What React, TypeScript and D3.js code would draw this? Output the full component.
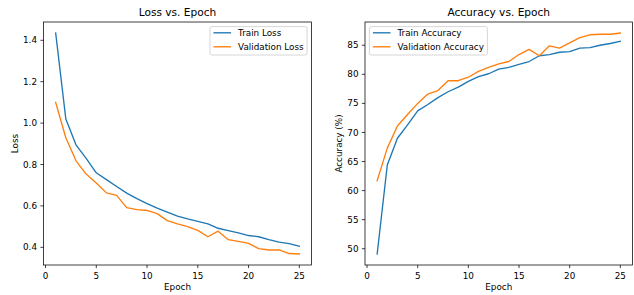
// @ts-nocheck
import * as d3 from "d3"
import { useEffect, useRef } from "react"
import * as React from "react"

const epochs = d3.range(1, 26)

const trainLoss = [1.435, 1.02, 0.895, 0.83, 0.76, 0.727, 0.694, 0.662, 0.635, 0.611, 0.589, 0.57, 0.551, 0.537, 0.525,
  0.513, 0.492, 0.481, 0.47, 0.457, 0.451, 0.437, 0.425, 0.418, 0.405]
const valLoss = [1.1, 0.929, 0.818, 0.754, 0.711, 0.663, 0.651, 0.592, 0.582, 0.578, 0.563, 0.529, 0.513, 0.5, 0.482,
  0.451, 0.478, 0.437, 0.429, 0.419, 0.394, 0.387, 0.388, 0.37, 0.368]

const trainAcc = [49.1, 64.4, 69.0, 71.3, 73.7, 74.8, 76.0, 77.0, 77.8, 78.8, 79.6, 80.1, 80.9, 81.2, 81.7,
  82.2, 83.2, 83.4, 83.8, 83.9, 84.5, 84.6, 85.0, 85.3, 85.7]
const valAcc = [61.7, 67.3, 71.1, 73.1, 75.0, 76.6, 77.2, 78.9, 78.9, 79.5, 80.5, 81.2, 81.8, 82.2, 83.4,
  84.3, 83.2, 84.9, 84.5, 85.4, 86.3, 86.8, 86.9, 86.9, 87.1]

const xTicks = [0, 5, 10, 15, 20, 25]
const lossTicks = [0.4, 0.6, 0.8, 1.0, 1.2, 1.4]
const accTicks = [50, 55, 60, 65, 70, 75, 80, 85]

const BLUE = "#1f77b4"
const ORANGE = "#ff7f0e"
const FONT = "DejaVu Sans, sans-serif"
const FS = 8.8

function padded(vals) {
  const [lo, hi] = d3.extent(vals)
  const m = (hi - lo) * 0.05
  return [lo - m, hi + m]
}

function drawPanel(svg, cfg) {
  const { left, right, top, bottom, series, yTicks, yFormat, title, ylabel, legendSide, ylabelX } = cfg
  const x = d3.scaleLinear().domain([1 - 1.2, 25 + 1.2]).range([left, right])
  const y = d3.scaleLinear().domain(padded(series.flatMap(s => s.values))).range([bottom, top])

  const g = svg.append("g").style("font-family", FONT)

  const line = d3.line().x((d, i) => x(epochs[i])).y(d => y(d))
  const clipId = "clip-" + title.replace(/\W/g, "")
  svg.append("clipPath").attr("id", clipId)
    .append("rect").attr("x", left).attr("y", top).attr("width", right - left).attr("height", bottom - top)

  series.forEach(s => {
    g.append("path")
      .attr("d", line(s.values))
      .attr("fill", "none")
      .attr("stroke", s.color)
      .attr("stroke-width", 1.35)
      .attr("stroke-linejoin", "round")
      .attr("stroke-linecap", "square")
      .attr("clip-path", `url(#${clipId})`)
  })

  // spines
  g.append("rect")
    .attr("x", left).attr("y", top)
    .attr("width", right - left).attr("height", bottom - top)
    .attr("fill", "none").attr("stroke", "#000").attr("stroke-width", 0.75)

  // x ticks
  xTicks.forEach(t => {
    g.append("line").attr("x1", x(t)).attr("x2", x(t)).attr("y1", bottom).attr("y2", bottom + 3.1)
      .attr("stroke", "#000").attr("stroke-width", 0.75)
    g.append("text").attr("x", x(t)).attr("y", bottom + 14)
      .attr("text-anchor", "middle").attr("font-size", FS).attr("fill", "#000").text(t)
  })
  yTicks.forEach(t => {
    g.append("line").attr("x1", left - 3.1).attr("x2", left).attr("y1", y(t)).attr("y2", y(t))
      .attr("stroke", "#000").attr("stroke-width", 0.75)
    g.append("text").attr("x", left - 6.5).attr("y", y(t)).attr("dy", "0.35em")
      .attr("text-anchor", "end").attr("font-size", FS).attr("fill", "#000").text(yFormat(t))
  })

  g.append("text").attr("x", (left + right) / 2).attr("y", 289.5)
    .attr("text-anchor", "middle").attr("font-size", FS).attr("fill", "#000").text("Epoch")
  g.append("text")
    .attr("transform", `translate(${ylabelX},${(top + bottom) / 2}) rotate(-90)`)
    .attr("text-anchor", "middle").attr("font-size", FS).attr("fill", "#000").text(ylabel)
  g.append("text").attr("x", (left + right) / 2).attr("y", 16)
    .attr("text-anchor", "middle").attr("font-size", 10.6).attr("fill", "#000").text(title)

  // legend
  const lg = g.append("g")
  const box = lg.append("rect")
  const labels = series.map((s, i) => {
    const cy = 6.2 + 14 * i
    lg.append("line").attr("x1", 3.5).attr("x2", 21.1).attr("y1", cy).attr("y2", cy)
      .attr("stroke", s.color).attr("stroke-width", 1.35)
    return lg.append("text").attr("x", 28.1).attr("y", cy).attr("dy", "0.35em")
      .attr("font-size", FS).attr("fill", "#000").text(s.name)
  })
  const textW = d3.max(labels, t => t.node().getComputedTextLength())
  const w = 28.1 + textW + 3.5
  const h = 28.4
  box.attr("x", 0).attr("y", 0).attr("width", w).attr("height", h).attr("rx", 2)
    .attr("fill", "#fff").attr("fill-opacity", 0.8).attr("stroke", "#cccccc").attr("stroke-width", 0.8)
  const lx = legendSide === "right" ? right - 4.4 - w : left + 4.4
  lg.attr("transform", `translate(${lx},${top + 4.6})`)
}

function buildChart(svgEl) {
  const svg = d3.select(svgEl)
  svg.selectAll("*").remove()
  drawPanel(svg, {
    left: 43.5, right: 311.5, top: 22, bottom: 265,
    series: [
      { name: "Train Loss", values: trainLoss, color: BLUE },
      { name: "Validation Loss", values: valLoss, color: ORANGE },
    ],
    yTicks: lossTicks, yFormat: d3.format(".1f"),
    title: "Loss vs. Epoch", ylabel: "Loss", legendSide: "right", ylabelX: 18,
  })
  drawPanel(svg, {
    left: 365, right: 632.5, top: 22, bottom: 265,
    series: [
      { name: "Train Accuracy", values: trainAcc, color: BLUE },
      { name: "Validation Accuracy", values: valAcc, color: ORANGE },
    ],
    yTicks: accTicks, yFormat: d3.format("d"),
    title: "Accuracy vs. Epoch", ylabel: "Accuracy (%)", legendSide: "left", ylabelX: 342,
  })
}

export default function App() {
  const ref = useRef(null)
  useEffect(() => {
    document.body.style.margin = "0"
    buildChart(ref.current)
  }, [])
  return <svg ref={ref} width={634} height={295} style={{ display: "block", background: "#fff" }} />
}
